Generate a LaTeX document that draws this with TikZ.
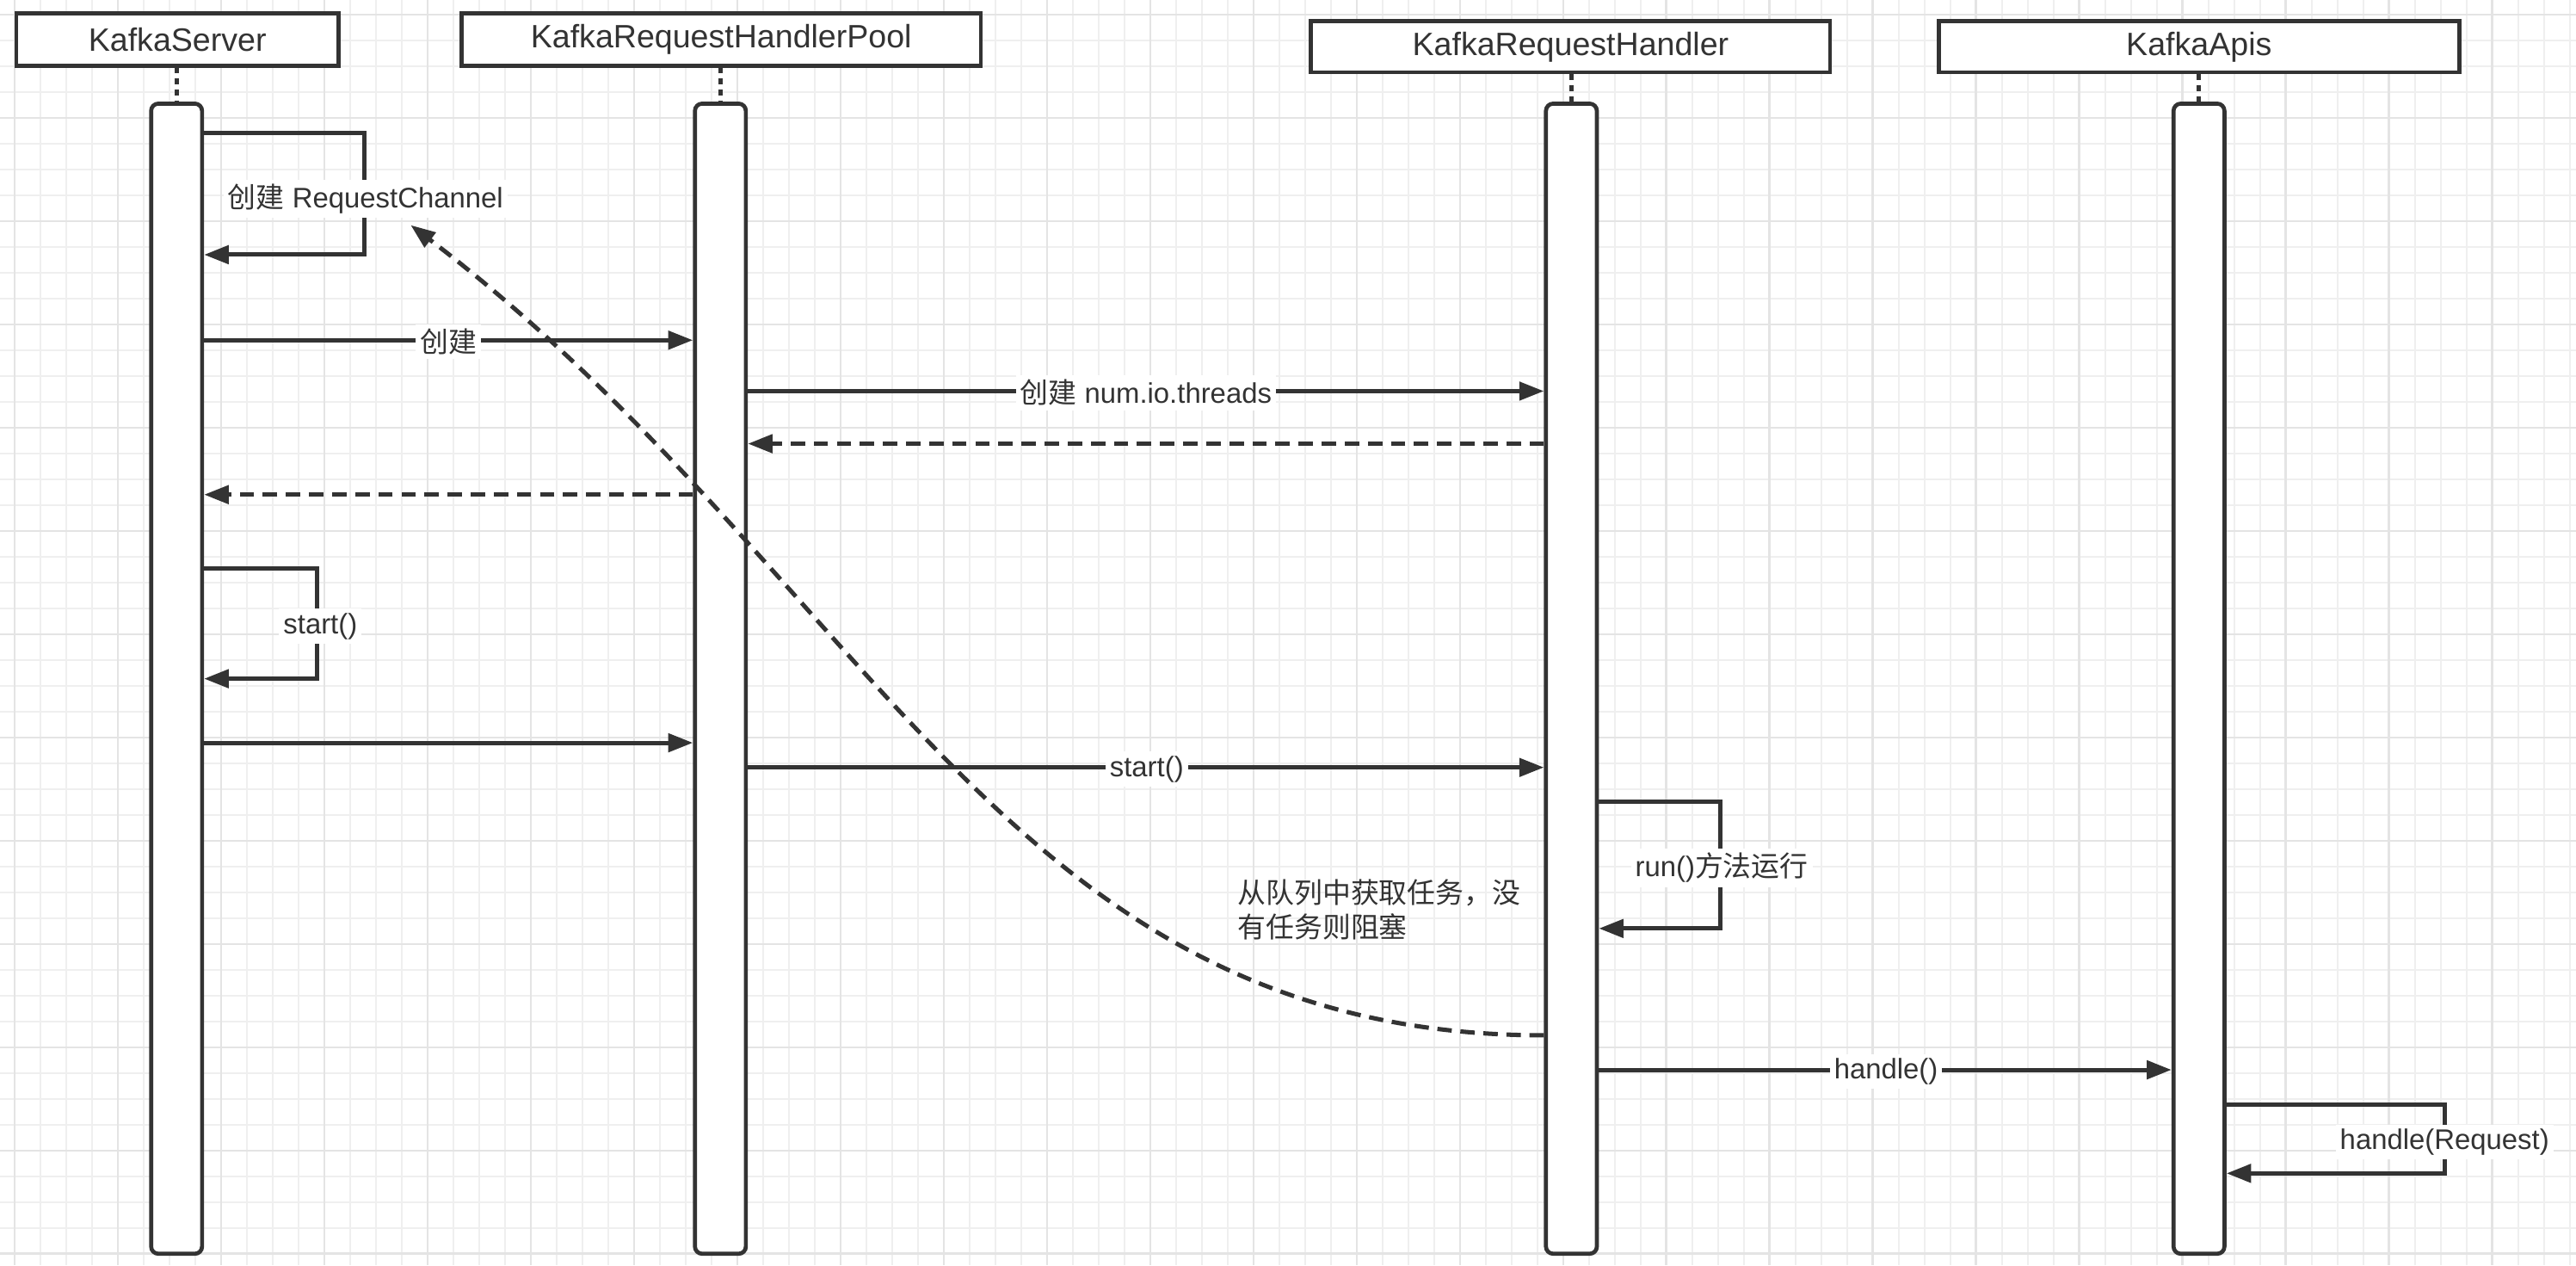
\documentclass[tikz,border=0pt]{standalone}
\usepackage{fontspec}
\setmainfont{Liberation Sans}
\newfontfamily\cjk{Noto Sans CJK SC}
\usetikzlibrary{arrows.meta,calc}
\definecolor{ink}{HTML}{333333}
\definecolor{gridminor}{HTML}{EFEFEF}
\definecolor{gridmajor}{HTML}{E4E4E4}
\newcommand{\lblfont}{\fontsize{9.8}{11.9}\selectfont}
\begin{document}
\begin{tikzpicture}[x=0.02cm,y=-0.02cm,
  hdr/.style={draw=ink, fill=white, line width=1.4pt, text=ink, font=\fontsize{11.2}{13}\selectfont, inner sep=0pt},
  lifebar/.style={draw=ink, fill=white, line width=1.4pt, rounded corners=2.5pt, minimum width=0.62cm, minimum height=14cm, inner sep=0pt},
  msg/.style={draw=ink, line width=1.5pt, -{Triangle[length=0.3cm,width=0.22cm]}},
  ret/.style={msg, dash pattern=on 5pt off 3pt},
  dotline/.style={draw=ink, line width=1.4pt, dash pattern=on 2pt off 1.8pt},
  lbl/.style={fill=white, text=ink, font=\lblfont, inner sep=1.5pt},
  gmin/.style={draw=gridminor, line width=0.55pt},
  gmaj/.style={draw=gridmajor, line width=0.7pt}]
\useasboundingbox (0,0) rectangle (1568,770);
\fill[white] (0,0) rectangle (1568,770);
% grid
\foreach \i in {0,...,99} \draw[gmin] ({8.745+15.711*\i},0) -- ++(0,770);
\foreach \i in {0,...,48} \draw[gmin] (0,{8.745+15.711*\i}) -- ++(1568,0);
\foreach \i in {0,...,24} \draw[gmaj] ({8.745+62.844*\i},0) -- ++(0,770);
\foreach \i in {0,...,12} \draw[gmaj] (0,{8.745+62.844*\i}) -- ++(1568,0);

% headers
\node[hdr, minimum width=3.92cm, minimum height=0.64cm] (hA) at (108,24) {KafkaServer};
\node[hdr, minimum width=6.32cm, minimum height=0.64cm] (hB) at (439,24) {KafkaRequestHandlerPool};
\node[hdr, minimum width=6.32cm, minimum height=0.62cm] (hC) at (956,28.5) {KafkaRequestHandler};
\node[hdr, minimum width=6.34cm, minimum height=0.62cm] (hD) at (1338.5,28.5) {KafkaApis};

% activation bars
\node[lifebar] (bA) at (107.5,413) {};
\node[lifebar] (bB) at (438.5,413) {};
\node[lifebar] (bC) at (956.5,413) {};
\node[lifebar] (bD) at (1338.5,413) {};

% dotted lifeline stubs
\draw[dotline] (hA.south -| bA.north) -- (bA.north);
\draw[dotline] (hB.south -| bB.north) -- (bB.north);
\draw[dotline] (hC.south -| bC.north) -- (bC.north);
\draw[dotline] (hD.south -| bD.north) -- (bD.north);

% message levels
\coordinate (y81) at (0,81);
\coordinate (y155) at (0,155);
\coordinate (y207) at (0,207);
\coordinate (y238) at (0,238);
\coordinate (y270) at (0,270);
\coordinate (y301) at (0,301);
\coordinate (y346) at (0,346);
\coordinate (y413) at (0,413);
\coordinate (y452) at (0,452);
\coordinate (y467) at (0,467);
\coordinate (y488) at (0,488);
\coordinate (y565) at (0,565);
\coordinate (y630) at (0,630);
\coordinate (y651) at (0,651);
\coordinate (y672) at (0,672);
\coordinate (y714) at (0,714);

% messages
\draw[msg] (bA.east |- y81) -- (222,81) -- (222,155) -- (bA.east |- y155);
\draw[msg] (bA.east |- y207) -- (bB.west |- y207);
\draw[msg] (bB.east |- y238) -- (bC.west |- y238);
\draw[ret] (bC.west |- y270) -- (bB.east |- y270);
\draw[ret] (bB.west |- y301) -- (bA.east |- y301);
\draw[msg] (bA.east |- y346) -- (193,346) -- (193,413) -- (bA.east |- y413);
\draw[msg] (bA.east |- y452) -- (bB.west |- y452);
\draw[msg] (bB.east |- y467) -- (bC.west |- y467);
\draw[msg] (bC.east |- y488) -- (1047,488) -- (1047,565) -- (bC.east |- y565);
\draw[msg] (bC.east |- y651) -- (bD.west |- y651);
\draw[msg] (bD.east |- y672) -- (1488,672) -- (1488,714) -- (bD.east |- y714);

% curved dashed return
\coordinate (rc) at (250,137);
\draw[ret] (bC.west |- y630) .. controls (611,630) and (530,350) .. (rc);

% labels
\node[lbl] (l1) at (222.5,121) {{\cjk 创建} RequestChannel};
\node[lbl] (l2) at (273,208) {\cjk 创建};
\node[lbl] (l3) at (697.5,239) {{\cjk 创建} num.io.threads};
\node[lbl] (l4) at (195,381) {start()};
\node[lbl] (l5) at (698,468) {start()};
\node[lbl] (l6) at (1048,528) {run(){\cjk 方法运行}};
\node[lbl] (l7) at (1148,652) {handle()};
\node[lbl] (l8) at (1488,695) {handle(Request)};
\node[text=ink, font=\lblfont, inner sep=0pt, anchor=north west, align=left] (note) at (753,535) {{\cjk 从队列中获取任务，没}\\{\cjk 有任务则阻塞}};
\end{tikzpicture}
\end{document}
